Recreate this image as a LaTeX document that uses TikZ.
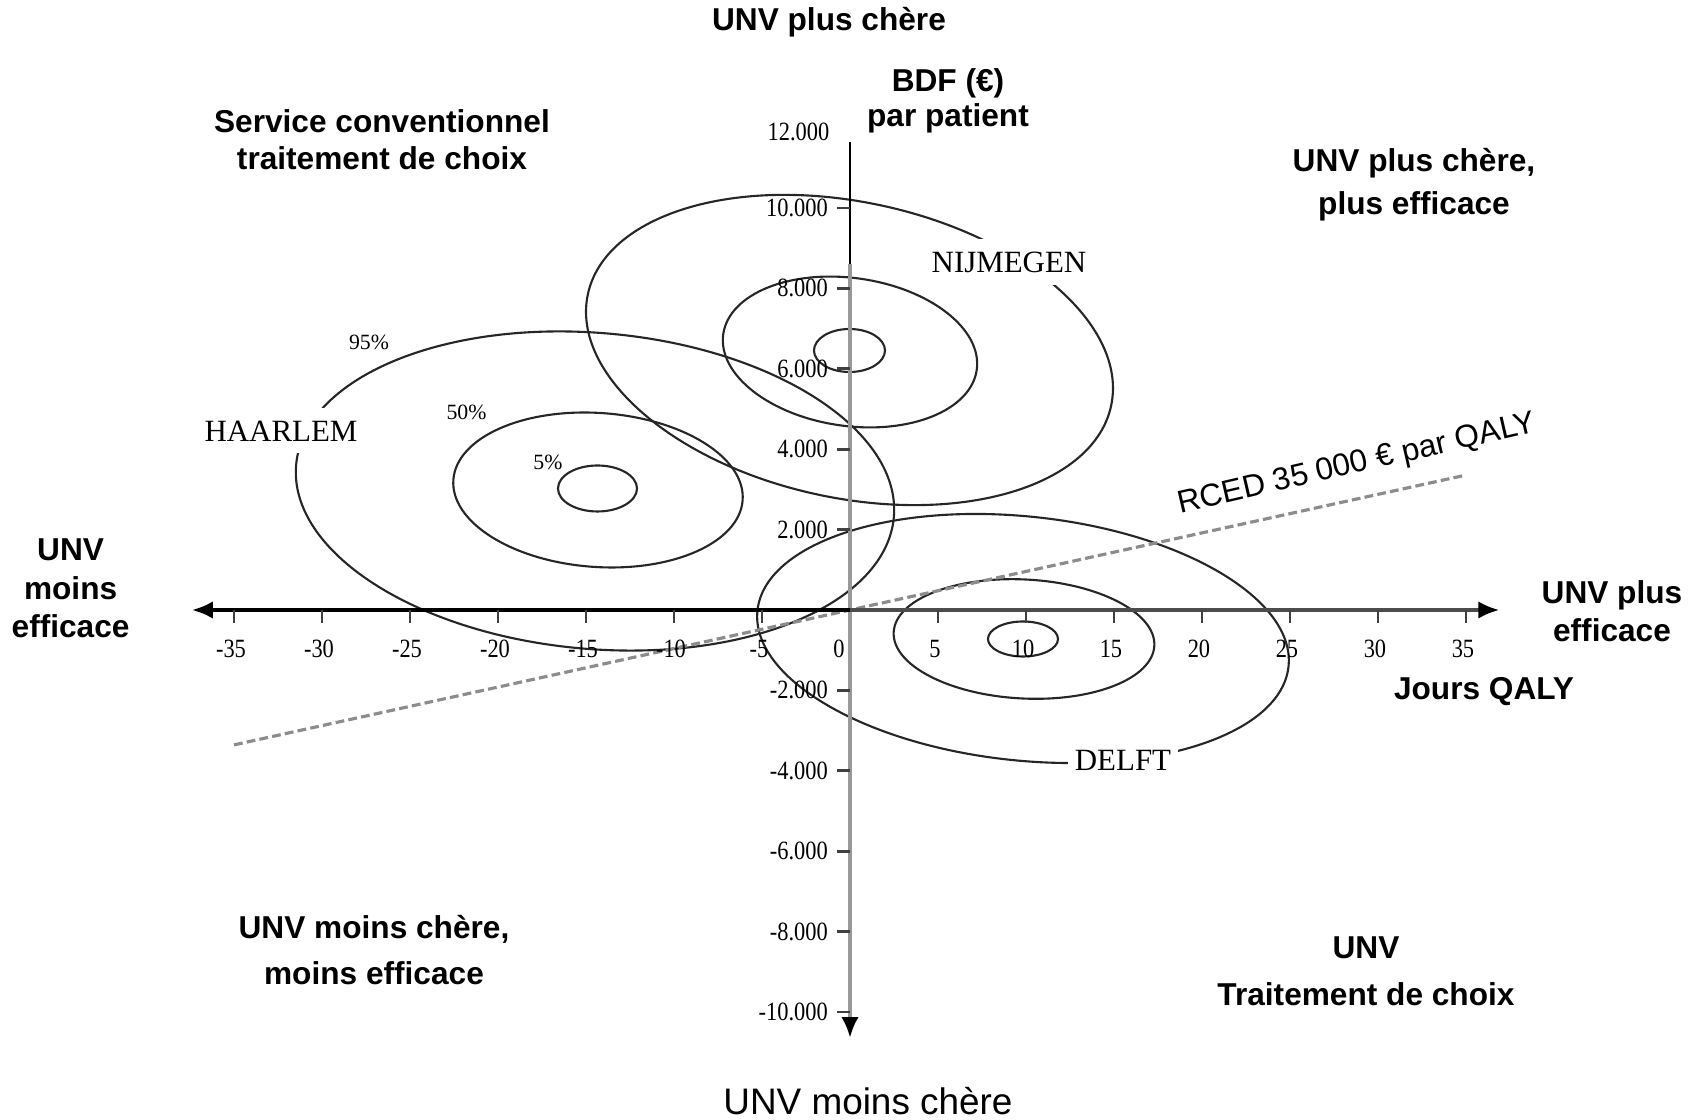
\documentclass[tikz,border=0pt]{standalone}
\usepackage{fontspec}
\setmainfont{Liberation Sans}
\newfontfamily\scanserif{Liberation Serif}
\usepackage{graphicx}
\usepackage{tikz}
\usetikzlibrary{arrows.meta,calc}

\newcommand{\ticktxt}[1]{\scalebox{0.85}[1]{#1}}

\begin{document}
\begin{tikzpicture}[
    quadrant/.style={font=\fontsize{9}{11}\selectfont\bfseries, align=center, inner sep=0pt},
    curve/.style={black!85, line width=0.6pt},
    citylabel/.style={font=\scanserif\fontsize{8.8}{10}\selectfont, fill=white, inner sep=3.5pt},
    pctlabel/.style={font=\scanserif\fontsize{6.2}{7}\selectfont, inner sep=0pt},
    ticklabel/.style={font=\scanserif\fontsize{7.5}{8}\selectfont, inner sep=0pt},
    tickline/.style={black!75, line width=0.8pt},
    icer/.style={black!45, line width=0.9pt, dash pattern=on 2.5pt off 1.2pt}
]
    \useasboundingbox (0,0) rectangle (17.02,11.20);

    % Confidence ellipses: Haarlem (95%, 50%, 5%)
    \draw[curve, shift={(5.95,6.29)}, rotate=-5] (0,0) ellipse [x radius=3.00, y radius=1.58];
    \draw[curve, shift={(5.98,6.30)}, rotate=-4] (0,0) ellipse [x radius=1.45, y radius=0.77];
    \draw[curve] (5.975,6.315) ellipse [x radius=0.395, y radius=0.23];

    % Nijmegen
    \draw[curve, shift={(8.495,7.70)}, rotate=-12] (0,0) ellipse [x radius=2.675, y radius=1.48];
    \draw[curve, shift={(8.50,7.68)}, rotate=-8] (0,0) ellipse [x radius=1.28, y radius=0.74];
    \draw[curve] (8.495,7.695) ellipse [x radius=0.355, y radius=0.215];

    % Delft
    \draw[curve, shift={(10.23,4.815)}, rotate=-6] (0,0) ellipse [x radius=2.67, y radius=1.22];
    \draw[curve, shift={(10.24,4.81)}, rotate=-3] (0,0) ellipse [x radius=1.305, y radius=0.595];
    \draw[curve] (10.23,4.81) ellipse [x radius=0.35, y radius=0.175];

    % Axes, ticks and threshold line (days x, thousands of euros y)
    \begin{scope}[shift={(8.5,5.1)}, x=0.176cm, y=0.402cm]
        \coordinate (origin) at (0,0);
        \coordinate (xlo) at (-37.4,0);
        \coordinate (xhi) at (36.9,0);
        \coordinate (ytop) at (0,11.65);
        \coordinate (ymid) at (0,8.6);
        \coordinate (ybot) at (0,-10.65);
        \coordinate (icerlo) at (-35,-3.356);
        \coordinate (icerhi) at (35,3.356);

        % RCED line
        \draw[icer] (icerlo) -- (icerhi);

        % y axis
        \draw[black!40, line width=1.4pt, -{Latex[length=6pt, width=5pt, color=black]}] (ymid) -- (ybot);
        \draw[black, line width=0.8pt] (ytop) -- (ymid);
        % x axis
        \draw[black, line width=1.1pt, {Latex[length=6pt, width=5pt]}-] (xlo) -- (origin);
        \draw[black!70, line width=1.1pt, -{Latex[length=6pt, width=5pt, color=black]}] (origin) -- (xhi);

        \foreach \k in {-35,-30,-25,-20,-15,-10,-5,5,10,15,20,25,30,35} {
            \draw[tickline] (\k,0) -- ([yshift=-0.13cm]\k,0);
            \node[ticklabel] (xt\k) at ([xshift=-0.03cm, yshift=-0.39cm]\k,0) {\ticktxt{\k}};
        }
        \node[ticklabel] (xtzero) at ([xshift=-0.11cm, yshift=-0.39cm]0,0) {\ticktxt{0}};

        \foreach \v/\t in {10/10.000, 8/8.000, 6/6.000, 4/4.000, 2/2.000, -2/-2.000, -4/-4.000, -6/-6.000, -8/-8.000, -10/-10.000} {
            \draw[tickline] ([xshift=-0.13cm]0,\v) -- (0,\v);
            \node[ticklabel, anchor=east] (yt\v) at ([xshift=-0.215cm]0,\v) {\ticktxt{\t}};
        }
        \node[ticklabel, anchor=east] (yttop) at ([xshift=-0.2cm]0,11.9) {\ticktxt{12.000}};
    \end{scope}

    % Ellipse labels
    \node[citylabel] (haarlem) at (2.81,6.89) {HAARLEM};
    \node[citylabel] (nijmegen) at (10.09,8.58) {NIJMEGEN};
    \node[citylabel, inner sep=2pt] (delft) at (11.23,3.60) {DELFT};
    \node[pctlabel] (p95) at (3.69,7.78) {95\%};
    \node[pctlabel] (p50) at (4.665,7.075) {50\%};
    \node[pctlabel] (p5) at (5.48,6.58) {5\%};

    % Threshold label
    \node[font=\fontsize{9}{10}\selectfont, rotate=13, inner sep=0pt] (rced) at (13.57,6.55) {RCED 35 000 € par QALY};

    % Quadrant and axis texts
    \node[quadrant] (top) at (8.29,10.98) {UNV plus chère};
    \node[quadrant, font=\fontsize{9}{10}\selectfont\bfseries] (ytitle) at (9.48,10.19) {BDF (€)\\par patient};
    \node[quadrant, font=\fontsize{9}{10.5}\selectfont\bfseries] (nw) at (3.82,9.80) {Service conventionnel\\traitement de choix};
    \node[quadrant, font=\fontsize{9}{12.3}\selectfont\bfseries] (ne) at (14.14,9.355) {UNV plus chère,\\plus efficace};
    \node[quadrant] (west) at (0.706,5.315) {UNV\\moins\\efficace};
    \node[quadrant, font=\fontsize{9}{10.8}\selectfont\bfseries] (east) at (16.12,5.09) {UNV plus\\efficace};
    \node[quadrant] (xtitle) at (14.84,4.285) {Jours QALY};
    \node[quadrant, font=\fontsize{9}{13}\selectfont\bfseries] (sw) at (3.74,1.70) {UNV moins chère,\\moins efficace};
    \node[quadrant, font=\fontsize{9}{13.4}\selectfont\bfseries] (se) at (13.66,1.485) {UNV\\Traitement de choix};
    \node[font=\fontsize{10.5}{12}\selectfont, inner sep=0pt] (bottom) at (8.68,0.19) {UNV moins chère};
\end{tikzpicture}
\end{document}
